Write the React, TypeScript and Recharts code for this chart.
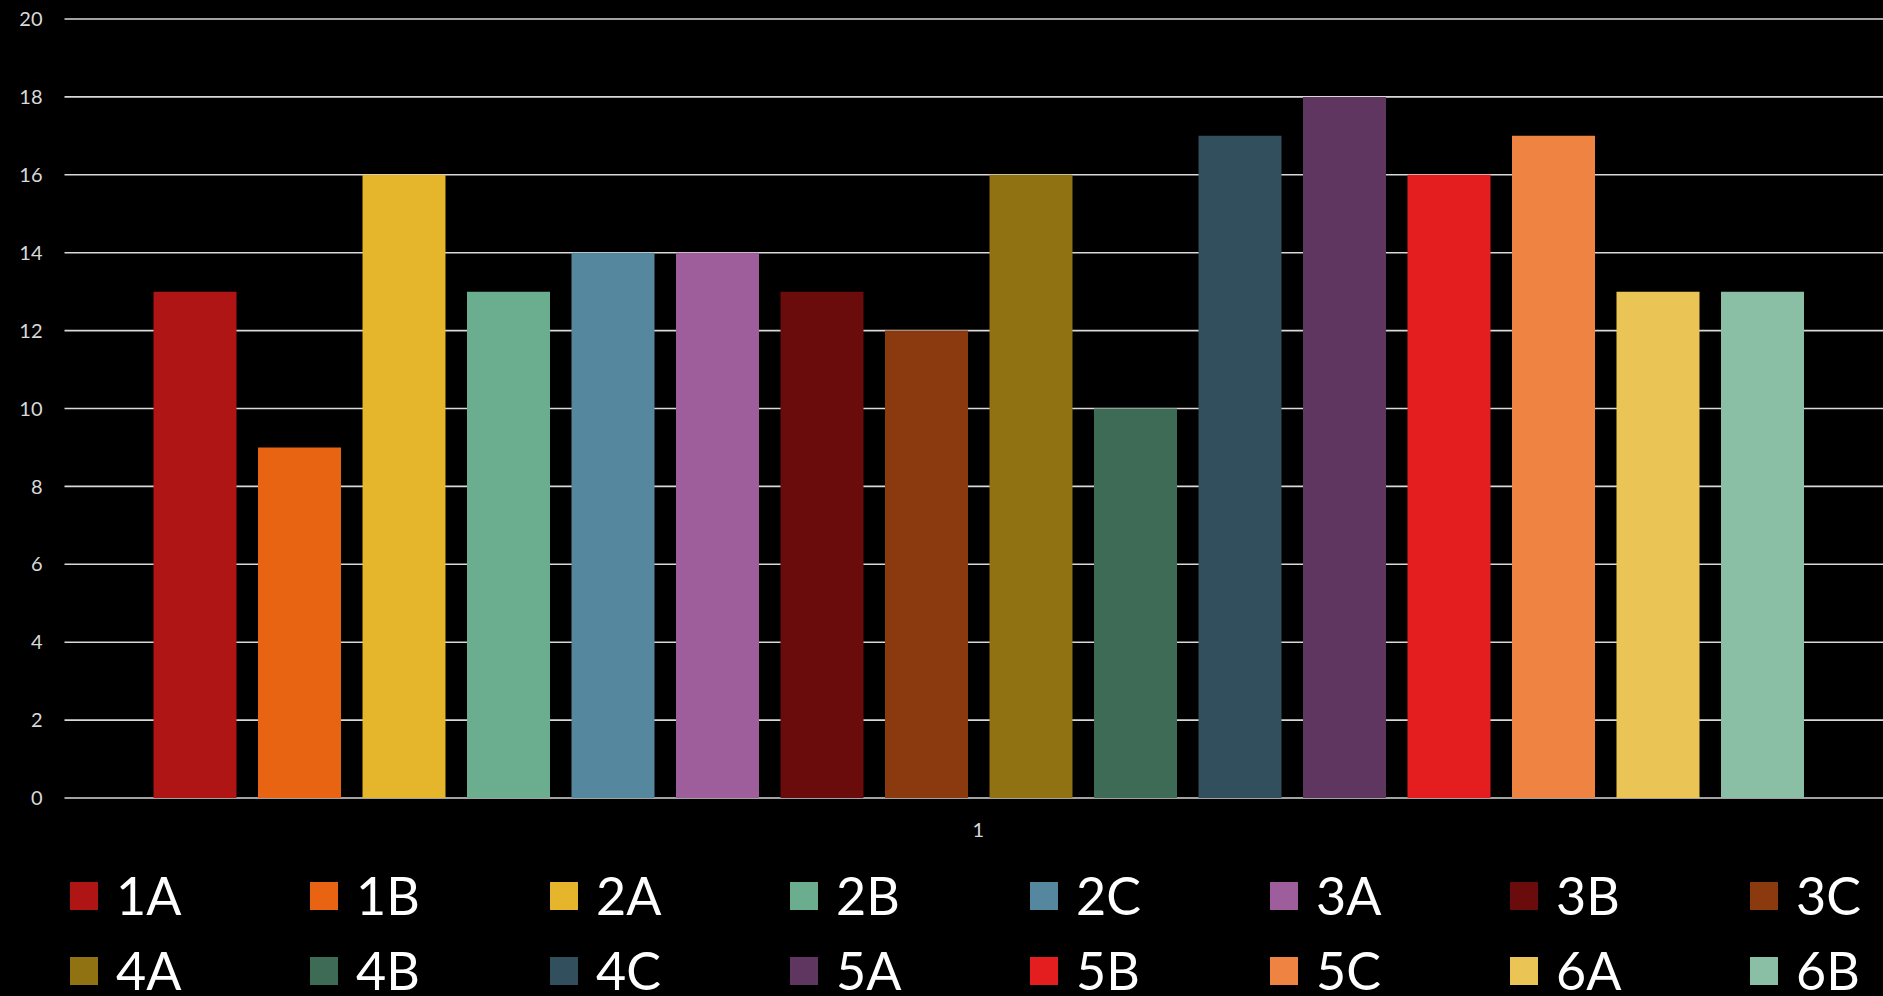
import React from 'react';
import { BarChart, Bar, XAxis, YAxis, CartesianGrid, Legend } from 'recharts';

const categories = ['1'];
const seriesNames = ['1A', '1B', '2A', '2B', '2C', '3A', '3B', '3C', '4A', '4B', '4C', '5A', '5B', '5C', '6A', '6B'];
const seriesValues = [13, 9, 16, 13, 14, 14, 13, 12, 16, 10, 17, 18, 16, 17, 13, 13];
const seriesColors = [
  '#B01515', '#E86412', '#E5B62B', '#6BAD8F', '#55879F', '#9E5E9B', '#6A0C0C', '#8A3A0E',
  '#917212', '#3E6B56', '#324F5D', '#5E3660', '#E41E1E', '#EF8342', '#EBC456', '#8ABEA5',
];
const yTicks = [0, 2, 4, 6, 8, 10, 12, 14, 16, 18, 20];

const data = categories.map((c) => {
  const row: Record<string, any> = { name: c };
  seriesNames.forEach((s, i) => {
    row[s] = seriesValues[i];
  });
  return row;
});

const FONT = 'Lato, "Open Sans", sans-serif';

const renderLegend = (props: any) => {
  const payload = props.payload || [];
  return (
    <div
      style={{
        width: 1883,
        height: 138,
        display: 'grid',
        gridTemplateColumns: 'repeat(8, 240px)',
        gridAutoRows: '75px',
        boxSizing: 'border-box',
        paddingLeft: 70,
        fontFamily: FONT,
        overflow: 'visible',
      }}
    >
      {payload.map((p: any) => (
        <div
          key={p.value}
          style={{ width: 240, height: 75, display: 'flex', alignItems: 'center', whiteSpace: 'nowrap' }}
        >
          <div style={{ width: 28, height: 28, background: p.color, marginRight: 18, flex: 'none' }} />
          <span style={{ color: '#ffffff', fontSize: 52, lineHeight: '75px' }}>{p.value}</span>
        </div>
      ))}
    </div>
  );
};

export default function App() {
  return (
    <div style={{ position: 'absolute', left: 0, top: 0, width: 1883, height: 996, background: '#000000' }}>
      <BarChart
        width={1883}
        height={996}
        data={data}
        margin={{ top: 19, right: 0, bottom: 0, left: 0 }}
        barSize={83}
        barGap={21.5}
      >
        <CartesianGrid vertical={false} stroke="#d9d9d9" strokeWidth={1.6} />
        <XAxis
          dataKey="name"
          axisLine={false}
          tickLine={false}
          tickSize={0}
          tickMargin={25}
          height={60}
          padding={{ left: 9, right: 0 }}
          tick={{ fill: '#d9d9d9', fontSize: 20, fontFamily: FONT }}
        />
        <YAxis
          domain={[0, 20]}
          ticks={yTicks}
          axisLine={false}
          tickLine={false}
          tickSize={0}
          tickMargin={22}
          width={64.5}
          tick={{ fill: '#d9d9d9', fontSize: 20, fontFamily: FONT }}
        />
        <Legend
          verticalAlign="bottom"
          content={renderLegend}
          wrapperStyle={{ left: 0, width: 1883 }}
        />
        {seriesNames.map((s, i) => (
          <Bar key={s} dataKey={s} fill={seriesColors[i]} isAnimationActive={false} />
        ))}
      </BarChart>
    </div>
  );
}
